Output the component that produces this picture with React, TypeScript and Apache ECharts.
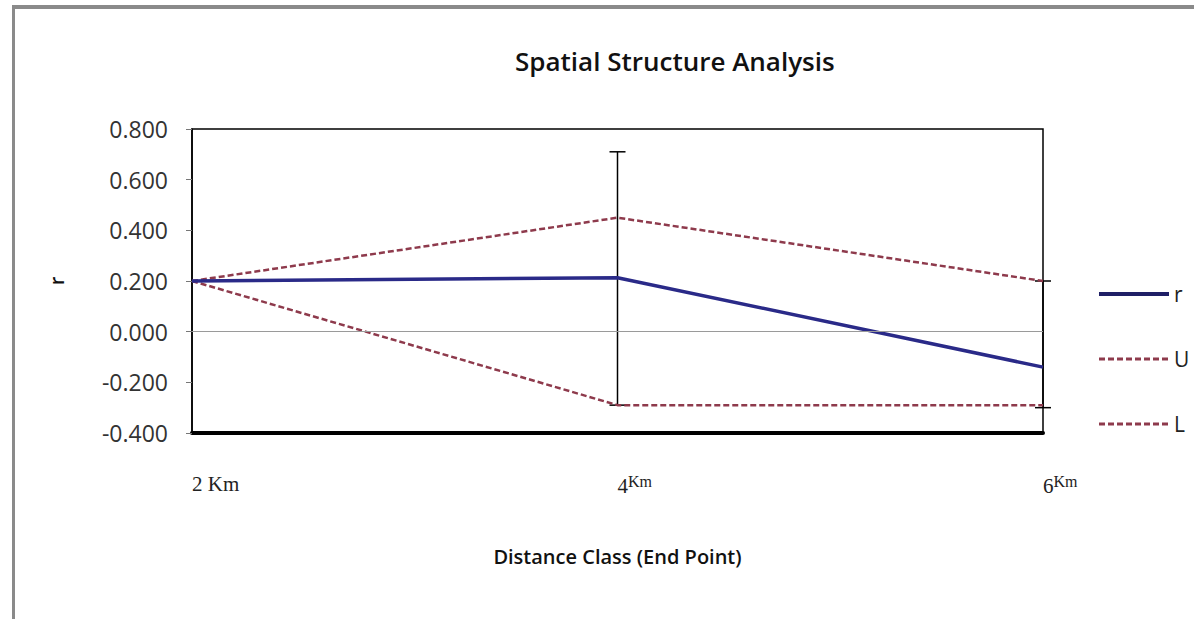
import React, { useEffect, useRef } from "react";
import * as echarts from "echarts";

const distances = [2, 4, 6];
const rValues = [0.2, 0.213, -0.14];
const upperValues = [0.2, 0.45, 0.2];
const lowerValues = [0.2, -0.29, -0.29];
const errX = [4, 6];
const errLow = [-0.29, -0.3];
const errHigh = [0.71, 0.2];
const xLabels: Record<number, string> = { 2: "{a|2 Km}", 4: "{n|4}{s|Km}", 6: "{n|6}{s|Km}" };

const RED = "#8e3a4c";
const BLUE = "#2a2a88";

export default function App() {
  const ref = useRef<HTMLDivElement>(null);
  useEffect(() => {
    if (!ref.current) return;
    const chart = echarts.init(ref.current, undefined, { renderer: "svg" });
    const pairs = (vals: number[]) => distances.map((d, i) => [d, vals[i]]);
    chart.setOption({
      animation: false,
      backgroundColor: "#ffffff",
      title: {
        text: "Spatial Structure Analysis",
        left: 510,
        top: 43,
        textStyle: { fontFamily: "Open Sans", fontWeight: 600, fontSize: 26, color: "#111" },
      },
      graphic: [
        { type: "rect", shape: { x: 12, y: 5, width: 1182, height: 4 }, style: { fill: "#8a8a8a" } },
        { type: "rect", shape: { x: 12, y: 5, width: 3, height: 614 }, style: { fill: "#8a8a8a" } },
      ],
      legend: {
        orient: "vertical",
        left: 1092,
        top: 278,
        itemWidth: 70,
        itemHeight: 14,
        itemGap: 43,
        data: [
          { name: "r", lineStyle: { width: 4, color: "#1f1f66" } },
          { name: "U", lineStyle: { width: 3 } },
          { name: "L", lineStyle: { width: 3 } },
        ],
        itemStyle: { opacity: 0 },
        textStyle: { fontFamily: "Open Sans", fontSize: 21, color: "#222", lineHeight: 22 },
      },
      grid: { left: 192, right: 151, top: 129, bottom: 186, show: true, borderColor: "#000", borderWidth: 1.5 },
      xAxis: {
        type: "value",
        min: 2,
        max: 6,
        interval: 2,
        name: "Distance Class (End Point)",
        nameLocation: "middle",
        nameGap: 113,
        nameTextStyle: { fontFamily: "Open Sans", fontWeight: 600, fontSize: 20, color: "#111" },
        axisLine: { show: true, onZero: false, lineStyle: { color: "#000", width: 4 } },
        axisTick: { show: false },
        splitLine: { show: false },
        axisLabel: {
          margin: 40,
          align: "left",
          formatter: (v: number) => xLabels[v] ?? "",
          rich: {
            a: { fontFamily: "Liberation Serif", fontSize: 21, color: "#222" },
            n: { fontFamily: "Liberation Serif", fontSize: 21, color: "#222" },
            s: { fontFamily: "Liberation Serif", fontSize: 16, color: "#222", verticalAlign: "top", padding: [0, 0, 10, 0] },
          },
        },
      },
      yAxis: {
        type: "value",
        min: -0.4,
        max: 0.8,
        interval: 0.2,
        name: "r",
        nameLocation: "middle",
        nameGap: 126,
        nameTextStyle: { fontFamily: "Open Sans", fontWeight: 600, fontSize: 20, color: "#111" },
        axisLine: { show: true, onZero: false, lineStyle: { color: "#000", width: 1.5 } },
        axisTick: { show: true, length: 6, lineStyle: { color: "#777", width: 1 } },
        splitLine: { show: false },
        axisLabel: {
          margin: 24,
          fontFamily: "Open Sans",
          fontSize: 23,
          color: "#333",
          formatter: (v: number) => v.toFixed(3),
        },
      },
      series: [
        {
          name: "U",
          type: "line",
          data: pairs(upperValues),
          symbol: "none",
          lineStyle: { color: RED, width: 2.5, type: [6, 3] },
          itemStyle: { color: RED },
          markLine: {
            silent: true,
            symbol: "none",
            label: { show: false },
            lineStyle: { color: "#9a9a9a", width: 1.2, type: "solid" },
            data: [{ yAxis: 0 }],
          },
        },
        {
          name: "L",
          type: "line",
          data: pairs(lowerValues),
          symbol: "none",
          lineStyle: { color: RED, width: 2.5, type: [6, 3] },
          itemStyle: { color: RED },
        },
        {
          name: "r",
          type: "line",
          data: pairs(rValues),
          symbol: "none",
          lineStyle: { color: BLUE, width: 3.5 },
          itemStyle: { color: BLUE },
        },
        {
          type: "custom",
          clip: false,
          data: errX.map((x, i) => [x, errLow[i], errHigh[i]]),
          renderItem: (_params: any, api: any) => {
            const x = api.value(0);
            const lo = api.coord([x, api.value(1)]);
            const hi = api.coord([x, api.value(2)]);
            const hw = 8;
            const st = { stroke: "#000", lineWidth: 1.5 };
            return {
              type: "group",
              children: [
                { type: "line", shape: { x1: lo[0], y1: lo[1], x2: hi[0], y2: hi[1] }, style: st },
                { type: "line", shape: { x1: hi[0] - hw, y1: hi[1], x2: hi[0] + hw, y2: hi[1] }, style: st },
                { type: "line", shape: { x1: lo[0] - hw, y1: lo[1], x2: lo[0] + hw, y2: lo[1] }, style: st },
              ],
            };
          },
        },
      ],
    });
    return () => chart.dispose();
  }, []);
  return (
    <div
      ref={ref}
      style={{ position: "absolute", left: 0, top: 0, width: 1194, height: 619 }}
    />
  );
}
